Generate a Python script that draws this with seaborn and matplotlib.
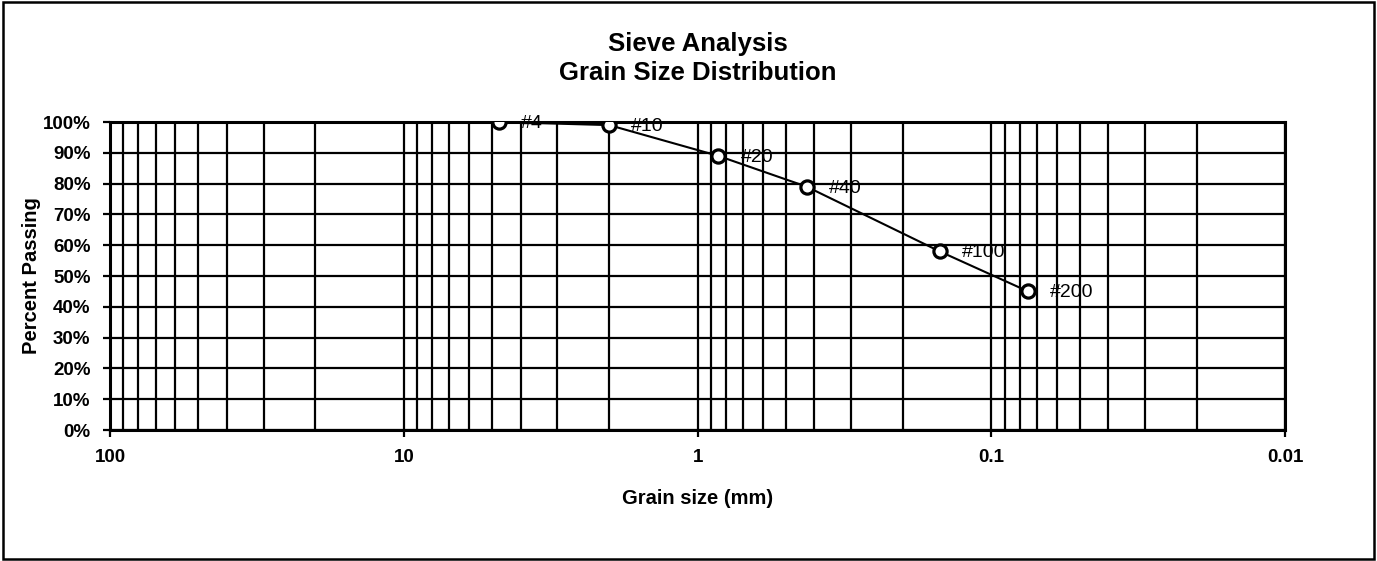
"""
Sieve analysis - grain size distribution curve
"""

import numpy as np
import pandas as pd
import matplotlib
matplotlib.use("Agg")
import matplotlib.pyplot as plt
import matplotlib.ticker as mticker
from matplotlib.patches import Rectangle
import seaborn as sns

# ─── Data ──────────────────────────────────────────────────────────────────────
sieves = ["#4", "#10", "#20", "#40", "#100", "#200"]
grain_mm = [4.75, 2.0, 0.85, 0.425, 0.15, 0.075]
passing = [100, 99, 89, 79, 58, 45]

x_ticks = [100, 10, 1, 0.1, 0.01]
x_tick_labels = ["100", "10", "1", "0.1", "0.01"]
y_ticks = list(range(0, 101, 10))

df = pd.DataFrame({"sieve": sieves, "size": grain_mm, "passing": passing})

# ─── Style ─────────────────────────────────────────────────────────────────────
sns.set_style("white")
plt.rcParams.update({
    "font.family": ["Liberation Sans", "DejaVu Sans"],
    "text.color": "black",
    "axes.labelcolor": "black",
    "xtick.color": "black",
    "ytick.color": "black",
})

fig = plt.figure(figsize=(13.77, 5.61), dpi=100)
ax = fig.add_axes([0.0799, 0.2335, 0.8534, 0.549])

# grid: vertical lines at every log subdivision, horizontal every 10%
for dec in [10, 1, 0.1, 0.01]:
    for m in range(1, 10):
        ax.axvline(dec * m, color="black", lw=1.6, zorder=1)
for yv in y_ticks:
    ax.axhline(yv, color="black", lw=1.6, zorder=1)

sns.lineplot(data=df, x="size", y="passing", ax=ax, color="black", lw=1.5,
             marker="o", markersize=9.5, markerfacecolor="white",
             markeredgecolor="black", markeredgewidth=2.3, zorder=3,
             sort=False)

for s, xv, yv in zip(sieves, grain_mm, passing):
    ax.annotate(s, (xv, yv), xytext=(16, -1), textcoords="offset points",
                va="center", ha="left", fontsize=14, color="black", zorder=4)

ax.set_xscale("log")
ax.set_xlim(100, 0.01)
ax.set_ylim(0, 100)
ax.set_xticks(x_ticks)
ax.set_xticklabels(x_tick_labels, fontsize=13.5, fontweight="bold")
ax.xaxis.set_minor_locator(mticker.NullLocator())
ax.set_yticks(y_ticks)
ax.set_yticklabels([f"{v}%" for v in y_ticks], fontsize=13.5, fontweight="bold")
ax.tick_params(axis="both", length=5, width=1.6, color="black", direction="out",
               bottom=True, left=True, labelcolor="black")
ax.tick_params(axis="x", pad=9)
ax.tick_params(axis="y", pad=9)
for sp in ax.spines.values():
    sp.set_color("black")
    sp.set_linewidth(2.2)

ax.set_xlabel("Grain size (mm)", fontsize=14.5, fontweight="bold", labelpad=16)
ax.set_ylabel("Percent Passing", fontsize=14.5, fontweight="bold", labelpad=1)
ax.set_title("Sieve Analysis\nGrain Size Distribution", fontsize=18.5,
             fontweight="bold", pad=30, linespacing=1.28, color="black")

# outer frame
fig.patches.append(Rectangle((0.002, 0.004), 0.996, 0.992, transform=fig.transFigure,
                             fill=False, edgecolor="black", lw=1.8))

fig.savefig("out.png", dpi=100, facecolor="white")
